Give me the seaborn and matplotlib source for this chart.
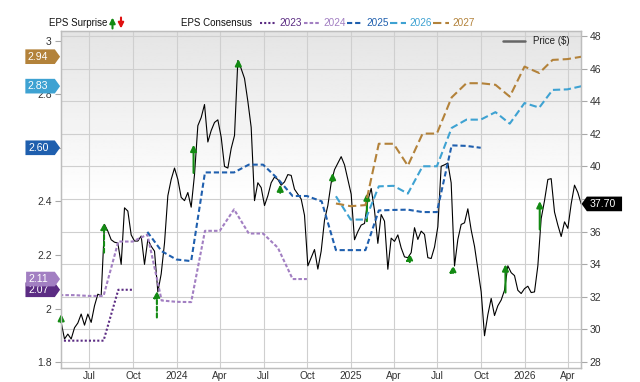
import numpy as np
import pandas as pd
import matplotlib
matplotlib.use("Agg")
import matplotlib.pyplot as plt
import matplotlib.transforms as mtransforms
from matplotlib.path import Path
from matplotlib.lines import Line2D
import seaborn as sns

#########################################
################ DATA ###################
#########################################

# weekly closing price ($), first week 2023-05-03
price_start = "2023-05-03"
price = [30.43, 29.41, 29.71, 29.41, 30.1, 30.39, 30.94, 30.26, 30.94, 30.43,
         31.45, 32.16, 32.06, 36.44, 36.03, 35.5, 35.35, 35.3, 33.99, 37.46,
         37.26, 35.8, 35.42, 35.42, 35.73, 33.99, 35.52, 35.1, 34.8, 32.3,
         33.4, 35.3, 38.2, 39.2, 39.9, 39.2, 38.1, 37.9, 38.4, 37.5,
         39.5, 42.5, 43.0, 43.8, 41.5, 42.2, 42.7, 42.86, 41.8, 40.0,
         39.9, 41.1, 41.9, 46.5, 46.0, 45.4, 44.0, 42.4, 37.9, 39.0,
         38.7, 37.6, 38.2, 39.0, 39.35, 39.2, 38.85, 39.05, 39.5, 39.45,
         38.6, 38.3, 38.0, 37.0, 33.9, 34.4, 34.9, 33.7, 34.8, 36.7,
         37.6, 39.0, 39.8, 40.2, 40.6, 40.1, 39.2, 38.3, 35.5, 36.0,
         36.4, 36.5, 37.9, 38.65, 37.3, 35.28, 37.05, 36.64, 33.69, 35.6,
         35.4, 35.8, 35.0, 34.45, 34.4, 34.71, 36.24, 35.52, 36.03, 35.83,
         34.4, 34.35, 35.05, 36.3, 40.01, 40.1, 40.21, 38.99, 33.89, 35.52,
         36.44, 36.54, 37.4, 36.1, 35.1, 33.7, 32.3, 29.61, 30.9, 31.9,
         30.85, 31.45, 31.8, 32.4, 33.9, 33.48, 33.3, 32.4, 32.2, 32.5,
         32.65, 32.26, 32.3, 33.9, 36.8, 37.9, 39.2, 39.25, 37.2, 36.4,
         35.7, 36.6, 36.2, 37.7, 38.85, 38.4, 37.70]

# monthly EPS consensus (month ends) per fiscal year
years = ["2023", "2024", "2025", "2026", "2027"]
eps_start = {"2023": "2023-04-01", "2024": "2023-04-01", "2025": "2023-10-01",
             "2026": "2024-11-01", "2027": "2024-11-01"}
eps_2023 = [1.88, 1.88, 1.88, 1.88, 2.07, 2.07]
eps_2024 = [2.05, 2.05, 2.047, 2.047, 2.25, 2.25, 2.276, 2.03, 2.025, 2.024,
            2.29, 2.29, 2.37, 2.28, 2.28, 2.227, 2.11, 2.11]
eps_2025 = [2.286, 2.214, 2.183, 2.177, 2.508, 2.508, 2.508, 2.537, 2.537, 2.484,
            2.42, 2.42, 2.40, 2.218, 2.218, 2.218, 2.366, 2.368, 2.369, 2.36,
            2.36, 2.609, 2.607, 2.60]
eps_2026 = [2.419, 2.332, 2.332, 2.456, 2.458, 2.429, 2.531, 2.531, 2.674, 2.705,
            2.705, 2.733, 2.69, 2.767, 2.75, 2.816, 2.818, 2.83]
eps_2027 = [2.392, 2.382, 2.386, 2.615, 2.615, 2.533, 2.653, 2.653, 2.788, 2.841,
            2.841, 2.835, 2.791, 2.903, 2.879, 2.928, 2.931, 2.94]
eps_values = {"2023": eps_2023, "2024": eps_2024, "2025": eps_2025,
              "2026": eps_2026, "2027": eps_2027}

# EPS surprise markers (all beats): date, arrow tip / base on the price scale
surprise_dates = ["2023-05-03", "2023-08-01", "2023-11-20", "2024-02-05",
                  "2024-05-09", "2024-08-05", "2024-11-23", "2025-02-03",
                  "2025-05-04", "2025-08-03", "2025-11-21", "2026-02-01"]
surprise_tip = [30.94, 36.54, 32.36, 41.33, 46.58, 38.89, 39.60, 38.34,
                34.65, 33.93, 33.99, 37.87]
surprise_base = [30.43, 34.71, 30.73, 39.60, 46.23, 38.38, 39.09, 36.64,
                 34.13, 33.49, 32.26, 36.13]
surprise_dashed = [False, True, True, False, False, False, False, False,
                   True, True, False, False]

tick_labels = ["Jul", "Oct", "2024", "Apr", "Jul", "Oct", "2025", "Apr",
               "Jul", "Oct", "2026", "Apr"]
eps_ticks = [1.8, 2.0, 2.2, 2.4, 2.6, 2.8, 3.0]
price_ticks = list(range(28, 49, 2))

#########################################
################ STYLE ##################
#########################################

colors = {"2023": "#5b2c83", "2024": "#a27fc2", "2025": "#1f5fae",
          "2026": "#3ea2d2", "2027": "#b3823a"}
dashes = {"2023": (0, (1, 1)), "2024": (0, (1.7, 1.0)), "2025": (0, (2.5, 1.4)),
          "2026": (0, (3.5, 1.7)), "2027": (0, (4.0, 1.9))}
green, red = "#138a13", "#e01010"
grid_c, spine_c, txt_c = "#cfcfcf", "#bdbdbd", "#333333"

sns.set_style("white")
plt.rcParams["font.family"] = ["Liberation Sans", "DejaVu Sans"]
plt.rcParams["font.size"] = 7.5

W, H = 640, 382
def px(x, y):
    return x / W, 1 - y / H

fig = plt.figure(figsize=(6.4, 3.82), dpi=100)
rect = [60.7 / W, 14 / H, 520 / W, 337.3 / H]

# gradient background
bg = fig.add_axes(rect, zorder=0)
t = np.linspace(0, 1, 256)
shade = 0.895 + 0.105 * np.clip(t / 0.5, 0, 1)
bg.imshow(shade[:, None], cmap="gray", vmin=0, vmax=1, aspect="auto",
          extent=(0, 1, 0, 1), origin="upper")
bg.axis("off")

ax2 = fig.add_axes(rect, zorder=1)   # price (right)
ax = fig.add_axes(rect, zorder=2, sharex=ax2)  # EPS (left)
ax.patch.set_visible(False)
ax2.patch.set_visible(False)
ax2.yaxis.tick_right()

# price line
price_dates = pd.date_range(price_start, periods=len(price), freq="7D")
sns.lineplot(x=price_dates, y=price, ax=ax2, color="black", lw=0.8, errorbar=None)

tick_dates = pd.date_range("2023-07-01", periods=len(tick_labels), freq="QS")
for d in tick_dates:
    ax2.axvline(d, color=grid_c, lw=0.8, zorder=0.5)
ax2.set_yticks(price_ticks)
# the 38 label sits under the last-price tag
ax2.set_yticklabels(["" if v == 38 else str(v) for v in price_ticks])
ax2.yaxis.grid(True, color=grid_c, lw=0.8)
ax2.set_axisbelow(True)

# EPS surprise arrows
for d, tip, base, dsh in zip(surprise_dates, surprise_tip, surprise_base, surprise_dashed):
    ax2.annotate("", xy=(pd.Timestamp(d), tip), xytext=(pd.Timestamp(d), base),
                 arrowprops=dict(arrowstyle="-|>", color=green, lw=1.5,
                                 linestyle=(0, (2, 1.2)) if dsh else "-",
                                 mutation_scale=9, shrinkA=0, shrinkB=0))

# consensus lines
for y in years:
    vals = eps_values[y]
    d = pd.date_range(eps_start[y], periods=len(vals), freq="MS") + pd.offsets.MonthEnd(1)
    sns.lineplot(x=d, y=vals, ax=ax, color=colors[y], lw=1.5,
                 linestyle=dashes[y], errorbar=None)

# axes limits / ticks
ax.set_xlim(pd.Timestamp("2023-05-02"), pd.Timestamp("2026-04-28"))
ax.set_ylim(1.778, 3.037)
ax2.set_ylim(27.63, 48.33)
ax.set_yticks(eps_ticks)
ax.set_yticklabels(["" if v == 2.6 else f"{v:g}" for v in eps_ticks])
ax.set_xticks(tick_dates)
ax.set_xticklabels(tick_labels)
for a in (ax, ax2):
    a.set_xlabel("")
    a.set_ylabel("")
    for s in a.spines.values():
        s.set_color(spine_c)
        s.set_linewidth(0.9)
    a.tick_params(length=4.5, width=0.8, color="#a8a8a8", labelcolor=txt_c,
                  labelsize=7.5, pad=2)
ax.tick_params(axis="x", length=2, pad=0.2, labelsize=7.3)
ax2.tick_params(axis="x", bottom=False, labelbottom=False)
ax.tick_params(axis="y", left=True, right=False)
ax2.tick_params(axis="y", left=False, right=True, labelleft=False, labelright=True)

# value tags
def tag_shape(point, pad_far, pad_tip, pad_v=0.22, k=0.72):
    def shape(x0, y0, width, height, mutation_size):
        pv = pad_v * mutation_size
        y0, y1 = y0 - pv, y0 + height + pv
        h = (y1 - y0) / 2
        if point == "right":
            xa, xb = x0 - pad_far * mutation_size, x0 + width + pad_tip * mutation_size
            verts = [(xa, y0), (xb, y0), (xb + k * h, y0 + h), (xb, y1), (xa, y1), (xa, y0)]
        else:
            xa, xb = x0 - pad_tip * mutation_size, x0 + width + pad_far * mutation_size
            verts = [(xb, y0), (xb, y1), (xa, y1), (xa - k * h, y0 + h), (xa, y0), (xb, y0)]
        return Path(verts, closed=True)
    return shape

left_tr = mtransforms.blended_transform_factory(ax.transAxes, ax.transData)
for y in ["2023", "2024", "2025", "2026", "2027"]:
    v = eps_values[y][-1]
    ax.annotate(f"{v:.2f}", xy=(0, v), xycoords=left_tr, xytext=(-8.8, 0),
                textcoords="offset points", ha="right", va="center",
                color="white", fontsize=7.6, annotation_clip=False,
                bbox=dict(boxstyle=tag_shape("right", 0.25, 0.6), fc=colors[y], ec="none"))

right_tr = mtransforms.blended_transform_factory(ax2.transAxes, ax2.transData)
ax.annotate(f"{price[-1]:.2f}", xy=(1, price[-1]), xycoords=right_tr, xytext=(6.7, 0),
            textcoords="offset points", ha="left", va="center", color="white",
            fontsize=7.6, annotation_clip=False,
            bbox=dict(boxstyle=tag_shape("left", 0.55, 0.3), fc="black", ec="none"))

# top legend
fs = 7.0
fig.text(*px(49, 23), "EPS Surprise", ha="left", va="center", fontsize=fs, color="#111111")
ax.annotate("", xy=px(112.5, 17.5), xytext=px(112.5, 28.5), xycoords="figure fraction",
            arrowprops=dict(arrowstyle="-|>", color=green, lw=1.5, mutation_scale=8,
                            shrinkA=0, shrinkB=0), annotation_clip=False)
ax.annotate("", xy=px(121, 28.5), xytext=px(121, 17.5), xycoords="figure fraction",
            arrowprops=dict(arrowstyle="-|>", color=red, lw=1.5, mutation_scale=8,
                            shrinkA=0, shrinkB=0), annotation_clip=False)
fig.text(*px(180.7, 23), "EPS Consensus", ha="left", va="center", fontsize=fs, color="#111111")
leg_x = {"2023": 260, "2024": 304, "2025": 347, "2026": 390, "2027": 433}
for y in years:
    x0 = leg_x[y]
    (fx0, fy), (fx1, _) = px(x0, 22.5), px(x0 + 16, 22.5)
    fig.add_artist(Line2D([fx0, fx1], [fy, fy], transform=fig.transFigure,
                          color=colors[y], lw=1.5, linestyle=dashes[y]))
    fig.text(*px(x0 + 19, 23), y, ha="left", va="center", fontsize=7.2, color=colors[y])

# price legend inside plot
(fx0, fy), (fx1, _) = px(503, 41.3), px(525, 41.3)
fig.add_artist(Line2D([fx0, fx1], [fy, fy], transform=fig.transFigure,
                      color="#666666", lw=1.8, zorder=5))
fig.text(*px(533, 41.5), "Price ($)", ha="left", va="center", fontsize=7.0,
         color="#222222", zorder=5)

plt.savefig("out.png", dpi=100)
